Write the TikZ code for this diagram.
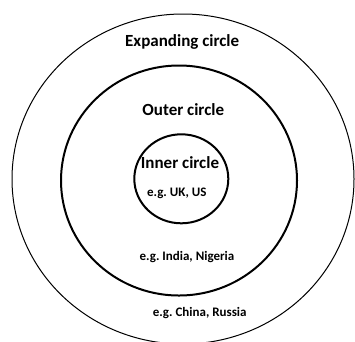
\documentclass[tikz,border=0pt]{standalone}
\usepackage{fontspec}
\setmainfont{Carlito}
\frenchspacing
\tikzset{
  big/.style={font=\fontsize{17}{17}\selectfont\bfseries, inner sep=0pt, anchor=base},
  small/.style={font=\fontsize{13}{13}\selectfont\bfseries, inner sep=0pt, anchor=base},
  thinring/.style={draw=black, line width=1pt},
  thickring/.style={draw=black, line width=2pt}
}
\begin{document}
\begin{tikzpicture}[x=1pt,y=-1pt]
\useasboundingbox (0,0) rectangle (355,341);
\fill[white] (0,0) rectangle (355,341);
\draw[thinring] (183,179) ellipse [x radius=171, y radius=165];
\draw[thickring] (179,180.5) ellipse [x radius=118, y radius=115];
\draw[thickring] (181.3,178.8) ellipse [x radius=47, y radius=44.5];
\node[big] (exp) at (182.2,46) {Expanding circle};
\node[big] (out) at (183.3,115) {Outer circle};
\node[big] (inn) at (180,168.3) {Inner circle};
\node[small] (uk) at (176.8,196.7) {e.g. UK, US};
\node[small] (ind) at (187,260.7) {e.g. India, Nigeria};
\node[small] (chi) at (199.7,316.7) {e.g. China, Russia};
\end{tikzpicture}
\end{document}
